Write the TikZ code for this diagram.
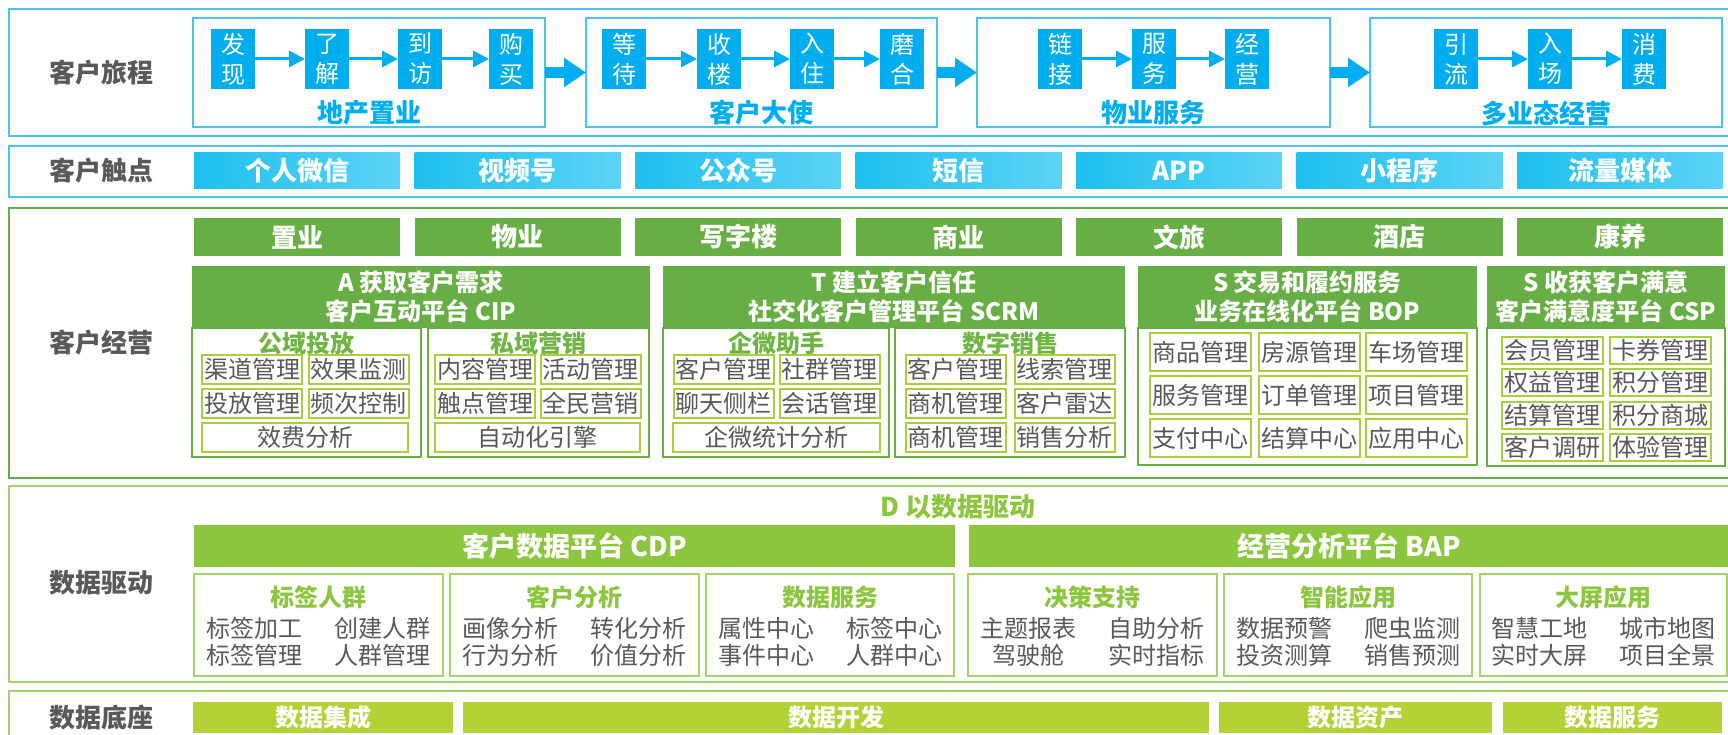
\documentclass[tikz,border=0pt]{standalone}
\usepackage{fontspec}
\setmainfont{Noto Sans CJK SC}
\usepackage{tikz}
\usetikzlibrary{arrows.meta}

\definecolor{stepblue}{HTML}{00AEEF}
\definecolor{frameblue}{HTML}{4DC4EE}
\definecolor{touchL}{HTML}{1EC0EE}
\definecolor{touchR}{HTML}{5CD3F5}
\definecolor{labelgray}{HTML}{595959}
\definecolor{bizgreen}{HTML}{67AE44}
\definecolor{itemgreen}{HTML}{A9CF3A}
\definecolor{subgreen}{HTML}{70B544}
\definecolor{datagreen}{HTML}{8CC63F}
\definecolor{dataline}{HTML}{A3D36A}
\definecolor{basegreen}{HTML}{B2D235}

\begin{document}
\begin{tikzpicture}[x=1pt, y=-1pt,
    every node/.style={inner sep=0pt, outer sep=0pt},
    rowlabel/.style={text=labelgray, font=\fontsize{26}{30}\selectfont\bfseries},
    stepbox/.style={fill=stepblue, text=white, align=center, minimum width=44pt,
      minimum height=60pt, font=\fontsize{24}{30}\selectfont},
    groupbox/.style={draw=frameblue, line width=2pt, minimum height=109pt},
    grouplabel/.style={text=stepblue, font=\fontsize{26}{30}\selectfont\bfseries},
    smallarrow/.style={stepblue, line width=3pt, -{Triangle[length=16pt, width=16pt]}},
    bigarrow/.style={stepblue, line width=11pt, -{Triangle[length=22pt, width=28pt]}},
    touchbtn/.style={left color=touchL, right color=touchR, text=white, minimum width=206pt,
      minimum height=36pt, font=\fontsize{26}{30}\selectfont\bfseries},
    indbar/.style={fill=bizgreen, text=white, minimum width=206pt, minimum height=38pt,
      font=\fontsize{26}{30}\selectfont\bfseries},
    header/.style={fill=bizgreen, text=white, align=center, minimum height=62pt,
      font=\fontsize{24}{29}\selectfont\bfseries},
    subbox/.style={draw=bizgreen, line width=2pt, fill=white},
    subtitle/.style={text=subgreen, font=\fontsize{24}{28}\selectfont\bfseries},
    itembox/.style={draw=itemgreen, line width=2pt, text=labelgray, minimum width=100pt,
      minimum height=29pt, font=\fontsize{24}{28}\selectfont},
    databar/.style={fill=datagreen, text=white, minimum height=42pt,
      font=\fontsize{27}{30}\selectfont\bfseries},
    databox/.style={draw=dataline, line width=1.5pt, minimum height=102pt},
    datatitle/.style={text=datagreen, font=\fontsize{24}{28}\selectfont\bfseries},
    datatext/.style={text=labelgray, font=\fontsize{24}{28}\selectfont},
    basebar/.style={fill=basegreen, text=white, minimum height=31pt,
      font=\fontsize{24}{28}\selectfont\bfseries}]

    \useasboundingbox (0,0) rectangle (1728,735);
    \clip (0,0) rectangle (1728,735);

    % row frames
    \draw [frameblue, line width=2.5pt] (9,9) rectangle (1732,136);
    \draw [frameblue, line width=2.5pt] (9,146) rectangle (1732,197);
    \draw [bizgreen, line width=2pt] (9,208) rectangle (1732,478);
    \draw [dataline, line width=2pt] (9,486) rectangle (1732,682);
    \draw [dataline, line width=2pt] (9,691) rectangle (1732,760);

    \node [rowlabel] (lj) at (101,73) {客户旅程};
    \node [rowlabel] (lt) at (101,171) {客户触点};
    \node [rowlabel] (lo) at (101,343) {客户经营};
    \node [rowlabel] (ld) at (101,583) {数据驱动};
    \node [rowlabel] (lb) at (101,717) {数据底座};

    % customer journey
    \node [groupbox, minimum width=352pt] (g1) at (369,72.5) {};
    \node [groupbox, minimum width=351pt] (g2) at (761.5,72.5) {};
    \node [groupbox, minimum width=353pt] (g3) at (1153.5,72.5) {};
    \node [groupbox, minimum width=352pt] (g4) at (1546,72.5) {};

    \node [grouplabel] (gl1) at (369,113) {地产置业};
    \node [grouplabel] (gl2) at (761.5,113) {客户大使};
    \node [grouplabel] (gl3) at (1153.5,113) {物业服务};
    \node [grouplabel] (gl4) at (1546,113) {多业态经营};

    \node [stepbox] (s1) at (233,59) {发\\现};
    \node [stepbox] (s2) at (327,59) {了\\解};
    \node [stepbox] (s3) at (420,59) {到\\访};
    \node [stepbox] (s4) at (511,59) {购\\买};
    \node [stepbox] (s5) at (624,59) {等\\待};
    \node [stepbox] (s6) at (719,59) {收\\楼};
    \node [stepbox] (s7) at (812,59) {入\\住};
    \node [stepbox] (s8) at (902,59) {磨\\合};
    \node [stepbox] (s9) at (1060,59) {链\\接};
    \node [stepbox] (s10) at (1154,59) {服\\务};
    \node [stepbox] (s11) at (1247,59) {经\\营};
    \node [stepbox] (s12) at (1456,59) {引\\流};
    \node [stepbox] (s13) at (1550,59) {入\\场};
    \node [stepbox] (s14) at (1644,59) {消\\费};

    \draw [smallarrow] (s1) -- (s2);
    \draw [smallarrow] (s2) -- (s3);
    \draw [smallarrow] (s3) -- (s4);
    \draw [smallarrow] (s5) -- (s6);
    \draw [smallarrow] (s6) -- (s7);
    \draw [smallarrow] (s7) -- (s8);
    \draw [smallarrow] (s9) -- (s10);
    \draw [smallarrow] (s10) -- (s11);
    \draw [smallarrow] (s12) -- (s13);
    \draw [smallarrow] (s13) -- (s14);

    \draw [bigarrow] (g1.east) -- (g2.west);
    \draw [bigarrow] (g2.east) -- (g3.west);
    \draw [bigarrow] (g3.east) -- (g4.west);

    % touch points and business lines
    \foreach \t [count=\i] in {个人微信,视频号,公众号,短信,APP,小程序,流量媒体}
      \node [touchbtn] (t\i) at ({297+(\i-1)*220.5},171) {\t};
    \foreach \t [count=\i] in {置业,物业,写字楼,商业,文旅,酒店,康养}
      \node [indbar] (b\i) at ({297+(\i-1)*220.5},237) {\t};

    % A platform
    \node [subbox, minimum width=229pt, minimum height=129pt] (sa1) at (306.5,392.5) {};
    \node [subbox, minimum width=221pt, minimum height=129pt] (sa2) at (538.5,392.5) {};
    \node [header, minimum width=458pt] (ha) at (421,297) {A 获取客户需求\\客户互动平台 CIP};
    \node [subtitle] (ta1) at (306.5,343) {公域投放};
    \node [subtitle] (ta2) at (538.5,343) {私域营销};
    \foreach \t/\x/\y [count=\i] in {渠道管理/252/369.5, 效果监测/358.5/369.5,
        投放管理/252/403.5, 频次控制/358.5/403.5, 内容管理/485/369.5, 活动管理/590.5/369.5,
        触点管理/485/403.5, 全民营销/590.5/403.5}
      \node [itembox] (a\i) at (\x,\y) {\t};
    \node [itembox, minimum width=206pt] (a9) at (305,437.5) {效费分析};
    \node [itembox, minimum width=205pt] (a10) at (537.5,437.5) {自动化引擎};

    % T platform
    \node [subbox, minimum width=226pt, minimum height=129pt] (st1) at (776,392.5) {};
    \node [subbox, minimum width=230pt, minimum height=129pt] (st2) at (1010,392.5) {};
    \node [header, minimum width=462pt] (ht) at (894,297) {T 建立客户信任\\社交化客户管理平台 SCRM};
    \node [subtitle] (tt1) at (776,343) {企微助手};
    \node [subtitle] (tt2) at (1010,343) {数字销售};
    \foreach \t/\x/\y [count=\i] in {客户管理/723.5/369.5, 社群管理/829.5/369.5,
        聊天侧栏/723.5/403.5, 会话管理/829.5/403.5, 客户管理/955.5/369.5, 线索管理/1064.5/369.5,
        商机管理/955.5/403.5, 客户雷达/1064.5/403.5, 商机管理/955.5/437.5, 销售分析/1064.5/437.5}
      \node [itembox] (t\i) at (\x,\y) {\t};
    \node [itembox, minimum width=207pt] (t11) at (776.5,437.5) {企微统计分析};

    % S platforms
    \node [subbox, minimum width=339pt, minimum height=137pt] (sb) at (1307.5,396.5) {};
    \node [header, minimum width=339pt] (hb) at (1307.5,297) {S 交易和履约服务\\业务在线化平台 BOP};
    \foreach \t/\x/\y [count=\i] in {商品管理/1200.5/352, 房源管理/1309/352, 车场管理/1416/352,
        服务管理/1200.5/395, 订单管理/1309/395, 项目管理/1416/395,
        支付中心/1200.5/438, 结算中心/1309/438, 应用中心/1416/438}
      \node [itembox, minimum width=101pt, minimum height=38pt] (o\i) at (\x,\y) {\t};

    \node [subbox, minimum width=238pt, minimum height=138pt] (sc) at (1606,397) {};
    \node [header, minimum width=238pt] (hc) at (1606,297) {S 收获客户满意\\客户满意度平台 CSP};
    \foreach \t/\x/\y [count=\i] in {会员管理/1552.5/350, 卡券管理/1660.5/350,
        权益管理/1552.5/382.5, 积分管理/1660.5/382.5, 结算管理/1552.5/415.5, 积分商城/1660.5/415.5,
        客户调研/1552.5/447.5, 体验管理/1660.5/447.5}
      \node [itembox, minimum width=101pt, minimum height=27pt] (c\i) at (\x,\y) {\t};

    % data driven
    \node [datatitle, font=\fontsize{26}{30}\selectfont\bfseries] (dh) at (958,507) {D 以数据驱动};
    \node [databar, minimum width=761pt] (cdp) at (574.5,546) {客户数据平台 CDP};
    \node [databar, minimum width=760pt] (bap) at (1349,546) {经营分析平台 BAP};
    \foreach \cx/\w/\t/\a/\b/\c/\d [count=\i] in {318.5/249/标签人群/标签加工/创建人群/标签管理/人群管理,
        574.5/249/客户分析/画像分析/转化分析/行为分析/价值分析,
        830/248/数据服务/属性中心/标签中心/事件中心/人群中心,
        1092.5/249/决策支持/主题报表/自助分析/驾驶舱/实时指标,
        1348/248/智能应用/数据预警/爬虫监测/投资测算/销售预测,
        1603.5/247/大屏应用/智慧工地/城市地图/实时大屏/项目全景} {
      \node [databox, minimum width=\w] (d\i) at (\cx,625) {};
      \node [datatitle] (dt\i) at (\cx,597) {\t};
      \node [datatext] (da\i) at (\cx-64,628) {\a};
      \node [datatext] (db\i) at (\cx+64,628) {\b};
      \node [datatext] (dc\i) at (\cx-64,655) {\c};
      \node [datatext] (dd\i) at (\cx+64,655) {\d};
    }

    % data base
    \node [basebar, minimum width=260pt] (e1) at (323,717.5) {数据集成};
    \node [basebar, minimum width=746pt] (e2) at (836,717.5) {数据开发};
    \node [basebar, minimum width=273pt] (e3) at (1355.5,717.5) {数据资产};
    \node [basebar, minimum width=219pt] (e4) at (1612.5,717.5) {数据服务};

\end{tikzpicture}
\end{document}
